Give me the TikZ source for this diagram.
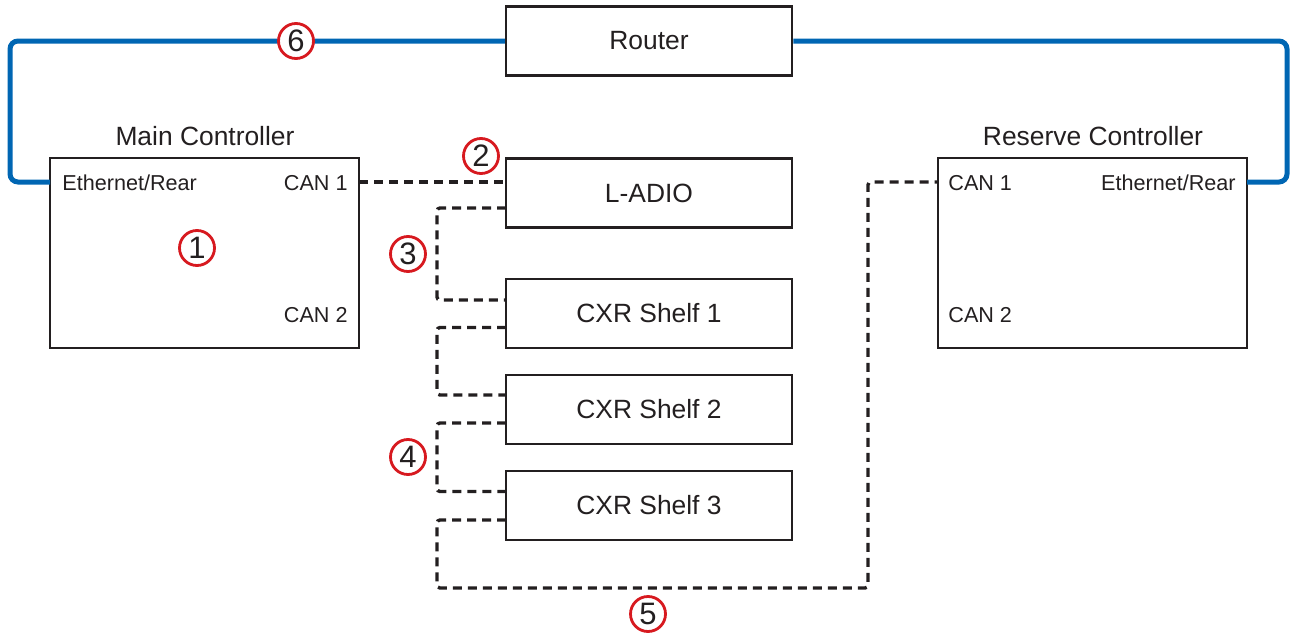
\documentclass[tikz,border=0pt]{standalone}
\usepackage{fontspec}
\setmainfont{Liberation Sans}
\usetikzlibrary{calc}
\definecolor{ink}{HTML}{231F20}
\definecolor{ethblue}{HTML}{0066B3}
\definecolor{numred}{HTML}{D7191F}
\begin{document}
\begin{tikzpicture}[x=0.5pt,y=-0.5pt,
  box/.style={draw=ink,line width=1.25pt,minimum width=143pt,minimum height=34.5pt,inner sep=0pt,font=\fontsize{13.2}{15}\selectfont,text=ink},
  ctrl/.style={draw=ink,line width=1.25pt,minimum width=154.5pt,minimum height=95pt,inner sep=0pt},
  title/.style={font=\fontsize{13.2}{15}\selectfont,text=ink,inner sep=0pt},
  port/.style={font=\fontsize{10.8}{12}\selectfont,text=ink,inner sep=0pt},
  num/.style={circle,draw=numred,line width=1.4pt,fill=white,minimum size=17.5pt,inner sep=0pt,font=\fontsize{15.5}{16}\selectfont,text=ink},
  eth/.style={draw=ethblue,line width=2.5pt,rounded corners=4pt},
  can/.style={draw=ink,line width=1.7pt,dash pattern=on 4.5pt off 3pt,rounded corners=1.5pt}]
\useasboundingbox (0,0) rectangle (1291,637);
% boxes
\node[box] (router) at (649,41) {Router};
\node[box] (ladio) at (649,193) {L-ADIO};
\node[box] (s1) at (649,313.5) {CXR Shelf 1};
\node[box] (s2) at (649,409.5) {CXR Shelf 2};
\node[box] (s3) at (649,505.5) {CXR Shelf 3};
\node[ctrl] (main) at (204.5,253) {};
\node[ctrl] (res) at (1092.5,253) {};
\node[title,anchor=base] (maint) at (205,145) {Main Controller};
\node[title,anchor=base] (rest) at (1093,145) {Reserve Controller};
% port labels
\node[port,anchor=base west] (mEthL) at (62,190) {Ethernet/Rear};
\node[port,anchor=base east] (mC1L) at (348,190) {CAN 1};
\node[port,anchor=base east] (mC2L) at (348,322) {CAN 2};
\node[port,anchor=base west] (rC1L) at (948,190) {CAN 1};
\node[port,anchor=base east] (rEthL) at (1236,190) {Ethernet/Rear};
\node[port,anchor=base west] (rC2L) at (948,322) {CAN 2};
% port coordinates
\coordinate (mEth) at (50,182);
\coordinate (mC1) at (359,182);
\coordinate (rEth) at (1247,182);
\coordinate (rC1) at (938,182);
\coordinate (la) at (506,182);
\coordinate (lb) at (506,208);
\coordinate (s1a) at (506,300);
\coordinate (s1b) at (506,327.5);
\coordinate (s2a) at (506,395);
\coordinate (s2b) at (506,423);
\coordinate (s3a) at (506,491.5);
\coordinate (s3b) at (506,520);
% ethernet
\draw[eth] (router.west) -- (10,41) -- (10,182) -- (mEth);
\draw[eth] (router.east) -- (1287,41) -- (1287,182) -- (rEth);
% CAN
\draw[can] (mC1) -- (la);
\draw[can] (lb) -- (437,208) -- (437,300) -- (s1a);
\draw[can] (s1b) -- (437,327.5) -- (437,395) -- (s2a);
\draw[can] (s2b) -- (437,423) -- (437,491.5) -- (s3a);
\draw[can] (s3b) -- (437,520) -- (437,588) -- (868,588) -- (868,182) -- (rC1);
% numbers
\node[num] (n1) at (197,248) {1};
\node[num] (n2) at (481,156) {2};
\node[num] (n3) at (408,254) {3};
\node[num] (n4) at (408,457) {4};
\node[num] (n5) at (648,614) {5};
\node[num] (n6) at (296,41) {6};
\end{tikzpicture}
\end{document}
